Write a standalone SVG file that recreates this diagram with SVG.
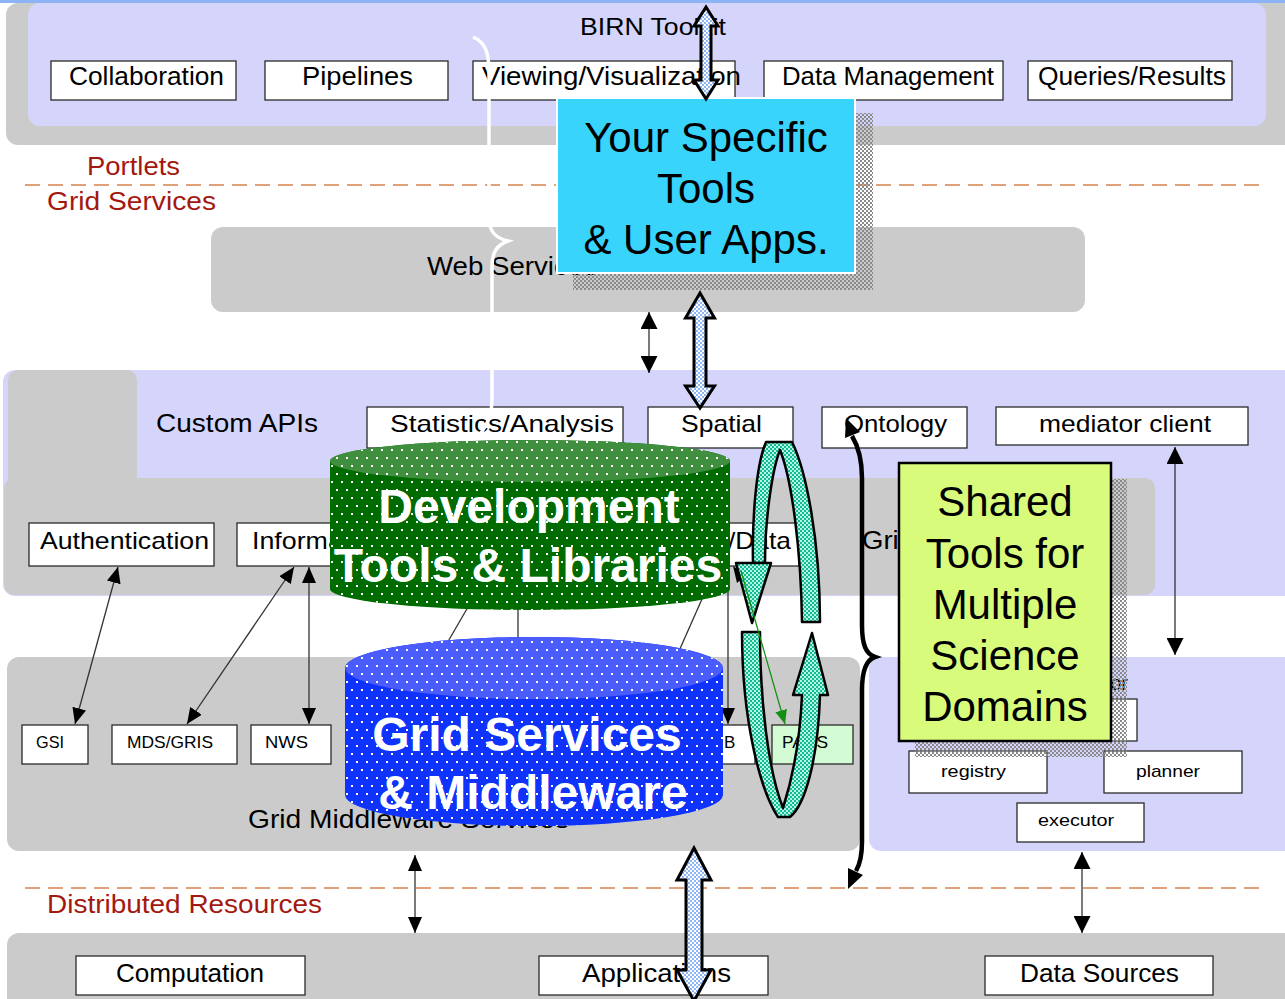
<svg xmlns="http://www.w3.org/2000/svg" width="1285" height="999" viewBox="0 0 1285 999">
  <defs>
    <style>
      .lav { fill: #d5d5fc; }
      .gry { fill: #cbcbcb; }
      .box { fill: #ffffff; stroke: #2a2a2a; stroke-width: 1.3; }
      .t { font-family: "Liberation Sans", Arial, sans-serif; fill: #000; }
      .red { font-family: "Liberation Sans", Arial, sans-serif; fill: #a3180f; font-size: 25px; }
      .dash { stroke: #dfa07a; stroke-width: 2; stroke-dasharray: 15 8; fill: none; }
      .thin { stroke: #333; stroke-width: 1.3; fill: none; }
      .big { font-family: "Liberation Sans", Arial, sans-serif; font-size: 42px; fill: #000; text-anchor: middle; }
      .cyl { font-family: "Liberation Sans", Arial, sans-serif; font-size: 48px; font-weight: bold; fill: #fff; text-anchor: middle; }
      .blueArrow { fill: url(#chkBlue); stroke: #000; stroke-width: 3; stroke-linejoin: miter; }
      .ribbon { fill: url(#chkTeal); stroke: #000; stroke-width: 2.5; stroke-linejoin: round; }
    </style>
    <pattern id="dots" width="10" height="16" patternUnits="userSpaceOnUse">
      <rect x="1" y="1" width="2" height="2" fill="#ffffff"/>
      <rect x="6" y="9" width="2" height="2" fill="#ffffff"/>
    </pattern>
    <pattern id="chkBlue" width="4" height="4" patternUnits="userSpaceOnUse">
      <rect width="4" height="4" fill="#8fb6f4"/>
      <rect width="2" height="2" fill="#ffffff"/>
      <rect x="2" y="2" width="2" height="2" fill="#ffffff"/>
    </pattern>
    <pattern id="chkTeal" width="4" height="4" patternUnits="userSpaceOnUse">
      <rect width="4" height="4" fill="#12bb94"/>
      <rect width="2" height="2" fill="#b4f4e2"/>
      <rect x="2" y="2" width="2" height="2" fill="#b4f4e2"/>
    </pattern>
    <pattern id="chkGray" width="4" height="4" patternUnits="userSpaceOnUse">
      <rect width="2" height="2" fill="#8a8a8a"/>
      <rect x="2" y="2" width="2" height="2" fill="#8a8a8a"/>
    </pattern>
    <marker id="ah" viewBox="0 0 16 14" refX="16" refY="7" markerWidth="16" markerHeight="14" markerUnits="userSpaceOnUse" orient="auto-start-reverse">
      <path d="M0,0 L16,7 L0,14 z" fill="#000"/>
    </marker>
    <marker id="ahBig" viewBox="0 0 17 17" refX="17" refY="8.5" markerWidth="17" markerHeight="17" markerUnits="userSpaceOnUse" orient="auto-start-reverse">
      <path d="M0,0 L17,8.5 L0,17 z" fill="#000"/>
    </marker>
    <marker id="ahGreen" viewBox="0 0 14 12" refX="14" refY="6" markerWidth="14" markerHeight="12" markerUnits="userSpaceOnUse" orient="auto">
      <path d="M0,0 L14,6 L0,12 z" fill="#139013"/>
    </marker>
  </defs>

  <rect width="1285" height="999" fill="#ffffff"/>
  <rect x="0" y="0" width="1285" height="3" fill="#8cb4f4"/>

  <!-- layer bands -->
  <g id="layers">
    <rect class="gry" x="6" y="3" width="1300" height="142" rx="12"/>
    <rect class="lav" x="28" y="3" width="1238" height="123" rx="12"/>
    <rect class="gry" x="211" y="227" width="874" height="85" rx="12"/>
    <rect class="lav" x="3" y="370" width="1300" height="226" rx="12"/>
    <rect class="gry" x="8" y="370" width="129" height="125" rx="10"/>
    <rect class="gry" x="4" y="478" width="1151" height="117" rx="10"/>
    <rect class="gry" x="7" y="657" width="853" height="194" rx="12"/>
    <rect class="lav" x="869" y="657" width="430" height="194" rx="12"/>
    <rect class="gry" x="7" y="933" width="1300" height="80" rx="12"/>
  </g>

  <!-- tier separators and tier names -->
  <g id="tiers">
    <line class="dash" x1="25" y1="185" x2="1262" y2="185"/>
    <line class="dash" x1="25" y1="888" x2="1262" y2="888"/>
    <text class="red" x="87" y="175" textLength="93" lengthAdjust="spacingAndGlyphs">Portlets</text>
    <text class="red" x="47" y="210" textLength="169" lengthAdjust="spacingAndGlyphs">Grid Services</text>
    <text class="red" x="47" y="913" textLength="275" lengthAdjust="spacingAndGlyphs">Distributed Resources</text>
  </g>

  <!-- layer titles -->
  <g id="titles">
    <text class="t" x="580" y="35" font-size="24" textLength="146" lengthAdjust="spacingAndGlyphs">BIRN Toolkit</text>
    <text class="t" x="427" y="275" font-size="25" textLength="170" lengthAdjust="spacingAndGlyphs">Web Services</text>
    <text class="t" x="156" y="432" font-size="25" textLength="162" lengthAdjust="spacingAndGlyphs">Custom APIs</text>
    <text class="t" x="862" y="549" font-size="25" textLength="52" lengthAdjust="spacingAndGlyphs">Grid</text>
    <text class="t" x="248" y="828" font-size="25" textLength="321" lengthAdjust="spacingAndGlyphs">Grid Middleware Services</text>
    <text class="t" x="1128" y="690" font-size="20" text-anchor="end">Mediator</text>
  </g>

  <!-- toolkit boxes -->
  <g id="collaboration"><rect class="box" x="51" y="61" width="185" height="39"/><text class="t" x="69" y="85" font-size="25" textLength="155" lengthAdjust="spacingAndGlyphs">Collaboration</text></g>
  <g id="pipelines"><rect class="box" x="265" y="61" width="183" height="39"/><text class="t" x="302" y="85" font-size="25" textLength="111" lengthAdjust="spacingAndGlyphs">Pipelines</text></g>
  <g id="viewing"><rect class="box" x="473" y="61" width="262" height="39"/><text class="t" x="482" y="85" font-size="25" textLength="259" lengthAdjust="spacingAndGlyphs">Viewing/Visualization</text></g>
  <g id="data-management"><rect class="box" x="764" y="61" width="239" height="39"/><text class="t" x="782" y="85" font-size="25" textLength="212" lengthAdjust="spacingAndGlyphs">Data Management</text></g>
  <g id="queries"><rect class="box" x="1028" y="61" width="204" height="39"/><text class="t" x="1038" y="85" font-size="25" textLength="188" lengthAdjust="spacingAndGlyphs">Queries/Results</text></g>

  <!-- custom API boxes -->
  <g id="statistics"><rect class="box" x="367" y="407" width="256" height="41"/><text class="t" x="390" y="432" font-size="24" textLength="224" lengthAdjust="spacingAndGlyphs">Statistics/Analysis</text></g>
  <g id="spatial"><rect class="box" x="648" y="407" width="145" height="41"/><text class="t" x="681" y="432" font-size="24" textLength="81" lengthAdjust="spacingAndGlyphs">Spatial</text></g>
  <g id="ontology"><rect class="box" x="822" y="407" width="145" height="41"/><text class="t" x="844" y="432" font-size="24" textLength="103" lengthAdjust="spacingAndGlyphs">Ontology</text></g>
  <g id="mediator-client"><rect class="box" x="996" y="407" width="252" height="38"/><text class="t" x="1039" y="432" font-size="24" textLength="172" lengthAdjust="spacingAndGlyphs">mediator client</text></g>

  <!-- grid service boxes -->
  <g id="authentication"><rect class="box" x="29" y="523" width="185" height="43"/><text class="t" x="40" y="549" font-size="24" textLength="169" lengthAdjust="spacingAndGlyphs">Authentication</text></g>
  <g id="information"><rect class="box" x="237" y="523" width="183" height="43"/><text class="t" x="252" y="549" font-size="24" textLength="134" lengthAdjust="spacingAndGlyphs">Information</text></g>
  <g id="data-access"><rect class="box" x="620" y="523" width="179" height="43"/><text class="t" x="728" y="549" font-size="24" textLength="63" lengthAdjust="spacingAndGlyphs">/Data</text></g>

  <!-- middleware boxes -->
  <g id="gsi"><rect class="box" x="22" y="725" width="66" height="39"/><text class="t" x="36" y="748" font-size="17" textLength="28" lengthAdjust="spacingAndGlyphs">GSI</text></g>
  <g id="mds-gris"><rect class="box" x="112" y="725" width="125" height="39"/><text class="t" x="127" y="748" font-size="17" textLength="86" lengthAdjust="spacingAndGlyphs">MDS/GRIS</text></g>
  <g id="nws"><rect class="box" x="251" y="725" width="80" height="39"/><text class="t" x="265" y="748" font-size="17" textLength="43" lengthAdjust="spacingAndGlyphs">NWS</text></g>
  <g id="srb"><rect class="box" x="600" y="725" width="155" height="39"/><text class="t" x="724" y="748" font-size="17">B</text></g>
  <g id="pacs"><rect class="box" x="772" y="725" width="81" height="39" style="fill:#d4fcd4"/><text class="t" x="782" y="748" font-size="17" textLength="46" lengthAdjust="spacingAndGlyphs">PACS</text></g>

  <!-- mediator boxes -->
  <g id="mediator"><rect class="box" x="1000" y="699" width="137" height="42"/></g>
  <g id="registry"><rect class="box" x="909" y="751" width="138" height="42"/><text class="t" x="941" y="777" font-size="17" textLength="65" lengthAdjust="spacingAndGlyphs">registry</text></g>
  <g id="planner"><rect class="box" x="1104" y="751" width="138" height="42"/><text class="t" x="1136" y="777" font-size="17" textLength="64" lengthAdjust="spacingAndGlyphs">planner</text></g>
  <g id="executor"><rect class="box" x="1017" y="803" width="127" height="39"/><text class="t" x="1038" y="826" font-size="17" textLength="76" lengthAdjust="spacingAndGlyphs">executor</text></g>

  <!-- resource boxes -->
  <g id="computation"><rect class="box" x="76" y="956" width="229" height="39"/><text class="t" x="116" y="982" font-size="25" textLength="148" lengthAdjust="spacingAndGlyphs">Computation</text></g>
  <g id="applications"><rect class="box" x="539" y="956" width="229" height="39"/><text class="t" x="582" y="982" font-size="25" textLength="149" lengthAdjust="spacingAndGlyphs">Applications</text></g>
  <g id="data-sources"><rect class="box" x="985" y="956" width="228" height="39"/><text class="t" x="1020" y="982" font-size="25" textLength="159" lengthAdjust="spacingAndGlyphs">Data Sources</text></g>

  <!-- connectors -->
  <g id="connectors">
    <!-- white brace spanning portlets to custom APIs -->
    <path d="M473,37 C485,42 489,52 489,72 L489,218 C489,231 495,238 508,241 C497,245 492,252 492,266 L492,400 C492,414 488,424 481,433" fill="none" stroke="#ffffff" stroke-width="3.5"/>

    <line class="thin" x1="118" y1="567" x2="75" y2="724" marker-start="url(#ah)" marker-end="url(#ah)"/>
    <line class="thin" x1="294" y1="567" x2="187" y2="724" marker-start="url(#ah)" marker-end="url(#ah)"/>
    <line class="thin" x1="309" y1="567" x2="309" y2="724" marker-start="url(#ah)" marker-end="url(#ah)"/>
    <line class="thin" x1="649" y1="312" x2="649" y2="373" marker-start="url(#ahBig)" marker-end="url(#ahBig)"/>
    <line class="thin" x1="415" y1="855" x2="415" y2="933" marker-start="url(#ah)" marker-end="url(#ah)"/>
    <line class="thin" x1="1082" y1="852" x2="1082" y2="933" marker-start="url(#ahBig)" marker-end="url(#ahBig)"/>
    <line class="thin" x1="1175" y1="447" x2="1175" y2="655" marker-start="url(#ahBig)" marker-end="url(#ahBig)"/>

    <!-- links running between the two cylinders -->
    <line class="thin" x1="475" y1="595" x2="439" y2="657"/>
    <line class="thin" x1="518" y1="595" x2="518" y2="660"/>
    <line class="thin" x1="706" y1="590" x2="675" y2="660"/>
    <line class="thin" x1="728" y1="567" x2="728" y2="724" marker-end="url(#ah)"/>
    <path d="M733,566 L746,575 L737,583 Z" fill="#000"/>
  </g>

  <!-- development tools cylinder -->
  <g id="dev-tools">
    <path d="M330,461 A200,21 0 0 1 730,461 L730,589 A200,21 0 0 1 330,589 Z" fill="#006b00"/>
    <ellipse cx="530" cy="461" rx="200" ry="21" fill="#3f8f3f"/>
    <path d="M330,461 A200,21 0 0 1 730,461 L730,589 A200,21 0 0 1 330,589 Z" fill="url(#dots)"/>
    <text class="cyl" x="529" y="523">Development</text>
    <text class="cyl" x="528" y="582">Tools &amp; Libraries</text>
  </g>

  <!-- grid middleware cylinder -->
  <g id="grid-middleware">
    <path d="M345,668 A189,31 0 0 1 723,668 L723,795 A189,31 0 0 1 345,795 Z" fill="#0f33fb"/>
    <ellipse cx="534" cy="668" rx="189" ry="31" fill="#4a5cfc"/>
    <path d="M345,668 A189,31 0 0 1 723,668 L723,795 A189,31 0 0 1 345,795 Z" fill="url(#dots)"/>
    <text class="cyl" x="527" y="751">Grid Services</text>
    <text class="cyl" x="533" y="809">&amp; Middleware</text>
  </g>

  <!-- circulating ribbon arrows -->
  <g id="cycle">
    <path class="ribbon" d="M753,563 C752,520 756,465 766,442 L792,442 C806,470 820,540 820,622 L802,622 C801,550 792,480 780,450 C772,470 765,520 765,563 Z"/>
    <path class="ribbon" d="M736,563 L771,563 L752,623 Z"/>
    <path class="ribbon" d="M742,632 L760,632 C760,700 768,770 783,808 C792,780 800,740 802,695 L793,695 L812,633 L828,695 L820,695 C818,760 805,805 790,817 L778,817 C760,790 742,720 742,632 Z"/>
    <line x1="741" y1="571" x2="785" y2="724" stroke="#139013" stroke-width="1.3" marker-end="url(#ahGreen)"/>
  </g>

  <!-- your specific tools -->
  <g id="specific-tools">
    <rect x="573" y="113" width="300" height="177" fill="url(#chkGray)"/>
    <rect x="557" y="98" width="298" height="175" fill="#38d4fc" stroke="#ffffff" stroke-width="2"/>
    <text class="big" x="706" y="152">Your Specific</text>
    <text class="big" x="706" y="203">Tools</text>
    <text class="big" x="706" y="254">&amp; User Apps.</text>
  </g>

  <!-- shared tools -->
  <g id="shared-tools">
    <rect x="915" y="479" width="212" height="278" fill="url(#chkGray)"/>
    <rect x="899" y="463" width="212" height="278" fill="#d8fb7c" stroke="#000" stroke-width="2.5"/>
    <text class="big" x="1005" y="516">Shared</text>
    <text class="big" x="1005" y="568">Tools for</text>
    <text class="big" x="1005" y="619">Multiple</text>
    <text class="big" x="1005" y="670">Science</text>
    <text class="big" x="1005" y="721">Domains</text>
  </g>

  <!-- wide double arrows and the shared-tools brace -->
  <g id="links">
    <polygon class="blueArrow" points="706,7 718,26 711,26 711,80 718,80 706,99 694,80 701,80 701,26 694,26"/>
    <polygon class="blueArrow" points="700,293 714.5,318 706,318 706,386 714.5,386 700,408 685.5,386 694,386 694,318 685.5,318"/>
    <polygon class="blueArrow" points="694,848 711,880 702,880 702,970 711,970 694,1001 677,970 686,970 686,880 677,880"/>

    <path d="M852,436 C858,446 862,458 862,478 L862,625 C862,645 866,654 875,657 C866,660 862,670 862,690 L862,842 C862,856 860,864 856,871" fill="none" stroke="#000" stroke-width="4.5"/>
    <polygon points="846,418 860,432 845,438" fill="#000"/>
    <polygon points="848,889 863,875 848,868" fill="#000"/>
  </g>
</svg>
